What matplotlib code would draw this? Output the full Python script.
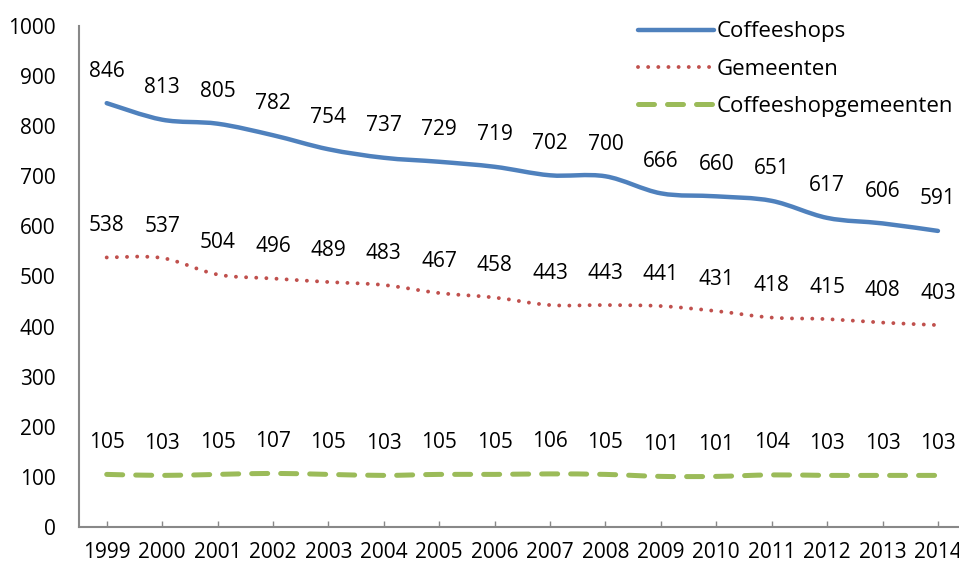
import matplotlib
matplotlib.use("Agg")
import matplotlib.pyplot as plt
from matplotlib.path import Path
from matplotlib.patches import PathPatch
from matplotlib.lines import Line2D
import numpy as np

years = ["1999", "2000", "2001", "2002", "2003", "2004", "2005", "2006",
         "2007", "2008", "2009", "2010", "2011", "2012", "2013", "2014"]
coffeeshops = [846, 813, 805, 782, 754, 737, 729, 719, 702, 700, 666, 660, 651, 617, 606, 591]
gemeenten = [538, 537, 504, 496, 489, 483, 467, 458, 443, 443, 441, 431, 418, 415, 408, 403]
cs_gemeenten = [105, 103, 105, 107, 105, 103, 105, 105, 106, 105, 101, 101, 104, 103, 103, 103]

plt.rcParams['font.family'] = ['Open Sans', 'DejaVu Sans']
FS = 15

fig = plt.figure(figsize=(9.59, 5.63), dpi=100)
ax = fig.add_axes([79/959, 1-527/563, 1-79/959, (527-26)/563])

def smooth_path(xs, ys):
    pts = np.column_stack([xs, ys]).astype(float)
    n = len(pts)
    verts = [pts[0]]
    codes = [Path.MOVETO]
    for i in range(n-1):
        p0 = pts[i-1] if i > 0 else pts[i]
        p1 = pts[i]
        p2 = pts[i+1]
        p3 = pts[i+2] if i+2 < n else pts[i+1]
        c1 = p1 + (p2 - p0) / 6.0
        c2 = p2 - (p3 - p1) / 6.0
        verts += [c1, c2, p2]
        codes += [Path.CURVE4]*3
    return Path(verts, codes)

x = np.arange(len(years))
series = [
    (coffeeshops, "Coffeeshops", "#4F81BD", dict(linestyle="-", linewidth=3.2, capstyle="round")),
    (gemeenten, "Gemeenten", "#C0504D", dict(linestyle=(0, (0.01, 2.6)), linewidth=2.8, capstyle="round")),
    (cs_gemeenten, "Coffeeshopgemeenten", "#9BBB59", dict(linestyle=(0, (3.2, 2.6)), linewidth=3.6, capstyle="round")),
]
handles = []
for vals, name, color, st in series:
    patch = PathPatch(smooth_path(x, vals), fill=False, edgecolor=color,
                      linewidth=st["linewidth"], linestyle=st["linestyle"],
                      capstyle=st["capstyle"], joinstyle="round")
    ax.add_patch(patch)
    h = Line2D([], [], color=color, linewidth=st["linewidth"], linestyle=st["linestyle"],
               solid_capstyle="round", dash_capstyle="round")
    handles.append(h)
    for xi, v in zip(x, vals):
        ax.annotate(str(v), (xi, v), xytext=(0, 23), textcoords="offset points",
                    ha="center", va="center", fontsize=FS, color="black")

ax.set_xlim(-0.5, 15.38)
ax.set_ylim(0, 1000)
ax.set_yticks(range(0, 1001, 100))
ax.set_xticks(x)
ax.set_xticklabels(years)
for s in ["top", "right"]:
    ax.spines[s].set_visible(False)
for s in ["left", "bottom"]:
    ax.spines[s].set_color("#888888")
    ax.spines[s].set_linewidth(1.5)
ax.tick_params(axis="y", length=0, pad=17, labelsize=FS)
ax.tick_params(axis="x", direction="in", length=4, width=1, color="#888888", pad=11, labelsize=FS)

leg = ax.legend(handles, [s[1] for s in series], loc="upper right",
                bbox_to_anchor=(1.003, 1.027), frameon=False, fontsize=16,
                handlelength=3.4, handletextpad=0.12, labelspacing=0.74,
                borderaxespad=0)

fig.savefig("out.png", dpi=100)
